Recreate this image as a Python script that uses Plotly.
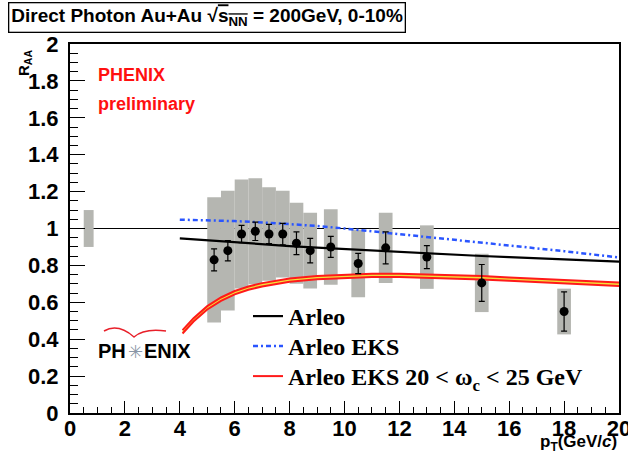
import plotly.graph_objects as go

# ---------------- data ----------------
pt = [5.25, 5.75, 6.25, 6.75, 7.25, 7.75, 8.25, 8.75, 9.5, 10.5, 11.5, 13.0, 15.0, 18.0]
raa = [0.83, 0.88, 0.97, 0.985, 0.97, 0.97, 0.92, 0.88, 0.90, 0.81, 0.895, 0.845, 0.705, 0.55]
stat_err = [0.06, 0.055, 0.047, 0.05, 0.052, 0.058, 0.062, 0.066, 0.057, 0.055, 0.087, 0.062, 0.10, 0.106]
sys_err = [0.34, 0.325, 0.295, 0.287, 0.253, 0.235, 0.22, 0.205, 0.205, 0.183, 0.19, 0.172, 0.158, 0.124]
sys_bin_width = 0.5

norm_x = 0.68
norm_width = 0.36
norm_err = 0.1

theory_pt = [4, 5, 6, 7, 8, 9, 10, 11, 12, 13, 14, 15, 16, 17, 18, 19, 20]
arleo = [0.946, 0.935, 0.925, 0.915, 0.905, 0.896, 0.888, 0.880, 0.872, 0.865,
         0.858, 0.851, 0.845, 0.838, 0.832, 0.826, 0.820]
arleo_eks = [1.048, 1.045, 1.040, 1.033, 1.025, 1.014, 1.000, 0.985, 0.968, 0.954,
             0.940, 0.925, 0.910, 0.893, 0.877, 0.860, 0.843]

band_pt = [4.1, 4.5, 5, 5.5, 6, 6.5, 7, 7.5, 8, 9, 10, 11, 12, 13, 14, 15, 16, 17, 18, 19, 20]
band_lo = [0.431, 0.496, 0.561, 0.608, 0.643, 0.668, 0.686, 0.700, 0.711, 0.725, 0.733,
           0.737, 0.737, 0.734, 0.730, 0.724, 0.717, 0.710, 0.703, 0.696, 0.689]
band_hi = [0.449, 0.514, 0.579, 0.626, 0.661, 0.686, 0.704, 0.718, 0.729, 0.743, 0.751,
           0.755, 0.755, 0.752, 0.748, 0.742, 0.735, 0.728, 0.721, 0.714, 0.707]

x_ticks = [0, 2, 4, 6, 8, 10, 12, 14, 16, 18, 20]
y_ticks = [0, 0.2, 0.4, 0.6, 0.8, 1.0, 1.2, 1.4, 1.6, 1.8, 2.0]
y_tick_labels = ["0", "0.2", "0.4", "0.6", "0.8", "1", "1.2", "1.4", "1.6", "1.8", "2"]

legend_names = ["<b>Arleo</b>", "<b>Arleo EKS</b>",
                "<b>Arleo EKS 20 &lt; ω<sub>c</sub> &lt; 25 GeV</b>"]

# ---------------- layout helpers ----------------
W, H = 628, 462
L, R, T, B = 70, 9, 44, 49
PW, PH = W - L - R, H - T - B


def fx(p):
    return (p - L) / PW


def fy(p):
    return (H - B - p) / PH


GRAY = "#b5b6b1"
RED = "#ff1a1a"

fig = go.Figure()

# normalization box
fig.add_trace(go.Bar(x=[norm_x], y=[2 * norm_err], base=[1 - norm_err], width=[norm_width],
                     marker=dict(color=GRAY, line=dict(width=0)), showlegend=False,
                     hoverinfo="skip"))
# systematic boxes
fig.add_trace(go.Bar(x=pt, y=[2 * s for s in sys_err], base=[r - s for r, s in zip(raa, sys_err)],
                     width=sys_bin_width, marker=dict(color=GRAY, line=dict(width=0)),
                     showlegend=False, hoverinfo="skip"))

# red band
fig.add_trace(go.Scatter(x=band_pt, y=band_lo, mode="lines", line=dict(color=RED, width=2),
                         name=legend_names[2], legend="legend3"))
fig.add_trace(go.Scatter(x=band_pt, y=band_hi, mode="lines", line=dict(color=RED, width=2),
                         fill="tonexty", fillcolor="#f2e23a", showlegend=False))

# Arleo
fig.add_trace(go.Scatter(x=theory_pt, y=arleo, mode="lines", line=dict(color="black", width=2.2),
                         name=legend_names[0], legend="legend"))
# Arleo EKS
fig.add_trace(go.Scatter(x=theory_pt, y=arleo_eks, mode="lines",
                         line=dict(color="#2a55ff", width=2.5, dash="5px,3px,2px,3px"),
                         name=legend_names[1], legend="legend2"))

# data points
fig.add_trace(go.Scatter(x=pt, y=raa, mode="markers",
                         marker=dict(color="black", size=9),
                         error_y=dict(type="data", array=stat_err, color="black",
                                      thickness=1.2, width=3),
                         showlegend=False))

axis_font = dict(family="Liberation Sans, Arial", size=22, color="black", weight="bold")
legend_font = dict(family="Liberation Serif, Times New Roman", size=24, color="black")


def legend_at(top_px):
    return dict(x=fx(248), y=fy(top_px), xanchor="left", yanchor="top",
                bgcolor="rgba(0,0,0,0)", font=legend_font, itemwidth=30)


fig.update_layout(
    width=W, height=H,
    margin=dict(l=L, r=R, t=T, b=B, autoexpand=False),
    paper_bgcolor="white", plot_bgcolor="white",
    barmode="overlay",
    xaxis=dict(range=[0, 20], tickmode="array", tickvals=x_ticks, ticks="inside",
               ticklen=12, tickwidth=1.3, tickcolor="black", automargin=False,
               ticklabelstandoff=-5, ticklabeloverflow="allow",
               minor=dict(dtick=0.5, tick0=0, ticks="inside", ticklen=6, tickwidth=1, tickcolor="black"),
               showline=True, linecolor="black", linewidth=2, mirror=True,
               showgrid=False, zeroline=False, tickfont=axis_font),
    yaxis=dict(range=[0, 2], tickmode="array", tickvals=y_ticks, ticktext=y_tick_labels,
               ticks="inside", ticklen=15, tickwidth=1.3, tickcolor="black", automargin=False,
               ticklabelstandoff=5, ticklabeloverflow="allow",
               minor=dict(dtick=0.05, tick0=0, ticks="inside", ticklen=8, tickwidth=1, tickcolor="black"),
               showline=True, linecolor="black", linewidth=2, mirror=True,
               showgrid=False, zeroline=False, tickfont=axis_font),
    legend=legend_at(294),
    legend2=legend_at(324),
    legend3=legend_at(354),
    showlegend=True,
)

# reference line at 1
fig.add_shape(type="line", xref="paper", x0=0, x1=1, yref="y", y0=1, y1=1,
              line=dict(color="black", width=1), layer="below")

# title box
fig.add_annotation(xref="paper", yref="paper", x=fx(8), y=fy(2), xanchor="left", yanchor="top",
                   showarrow=False, bordercolor="black", borderwidth=1.3, borderpad=2,
                   bgcolor="white",
                   text="<b>Direct Photon Au+Au √<span style='text-decoration:overline'>s<sub>NN</sub></span>"
                        " = 200GeV, 0-10%</b>",
                   font=dict(family="Liberation Sans, Arial", size=19, color="black"))

# axis titles
fig.add_annotation(xref="paper", yref="paper", x=fx(25), y=fy(63), xanchor="center", yanchor="middle",
                   showarrow=False, textangle=-90, text="<b>R<sub>AA</sub></b>",
                   font=dict(family="Liberation Sans, Arial", size=15, color="black"))
fig.add_annotation(xref="paper", yref="paper", x=fx(619), y=fy(443), xanchor="right", yanchor="middle",
                   showarrow=False, text="<b>p<sub>T</sub>(GeV/<i>c</i>)</b>",
                   font=dict(family="Liberation Sans, Arial", size=17, color="black"))

# PHENIX preliminary
fig.add_annotation(xref="paper", yref="paper", x=fx(96), y=fy(75), xanchor="left", yanchor="middle",
                   showarrow=False, text="<b>PHENIX</b>",
                   font=dict(family="Liberation Sans, Arial", size=18, color="#ff1010"))
fig.add_annotation(xref="paper", yref="paper", x=fx(96), y=fy(104), xanchor="left", yanchor="middle",
                   showarrow=False, text="<b>preliminary</b>",
                   font=dict(family="Liberation Sans, Arial", size=18, color="#ff1010"))

# PHENIX logo
fig.add_annotation(xref="paper", yref="paper", x=fx(128), y=fy(351), xanchor="right", yanchor="middle",
                   showarrow=False, text="<b>PH</b>",
                   font=dict(family="Liberation Sans, Arial", size=20, color="black"))
fig.add_annotation(xref="paper", yref="paper", x=fx(135), y=fy(351), xanchor="center", yanchor="middle",
                   showarrow=False, text="✳",
                   font=dict(family="DejaVu Sans", size=18, color="#8a96a6"))
fig.add_annotation(xref="paper", yref="paper", x=fx(142), y=fy(351), xanchor="left", yanchor="middle",
                   showarrow=False, text="<b>ENIX</b>",
                   font=dict(family="Liberation Sans, Arial", size=20, color="black"))
path = (f"M {fx(104)},{fy(331)} Q {fx(118)},{fy(323)} {fx(134)},{fy(337)} "
        f"Q {fx(144)},{fy(328)} {fx(166)},{fy(331)}")
fig.add_shape(type="path", xref="paper", yref="paper", path=path,
              line=dict(color="#e8202a", width=1.5))

fig.write_html("out.html", config={"displayModeBar": False},
               post_script="document.body.style.margin='0';")
